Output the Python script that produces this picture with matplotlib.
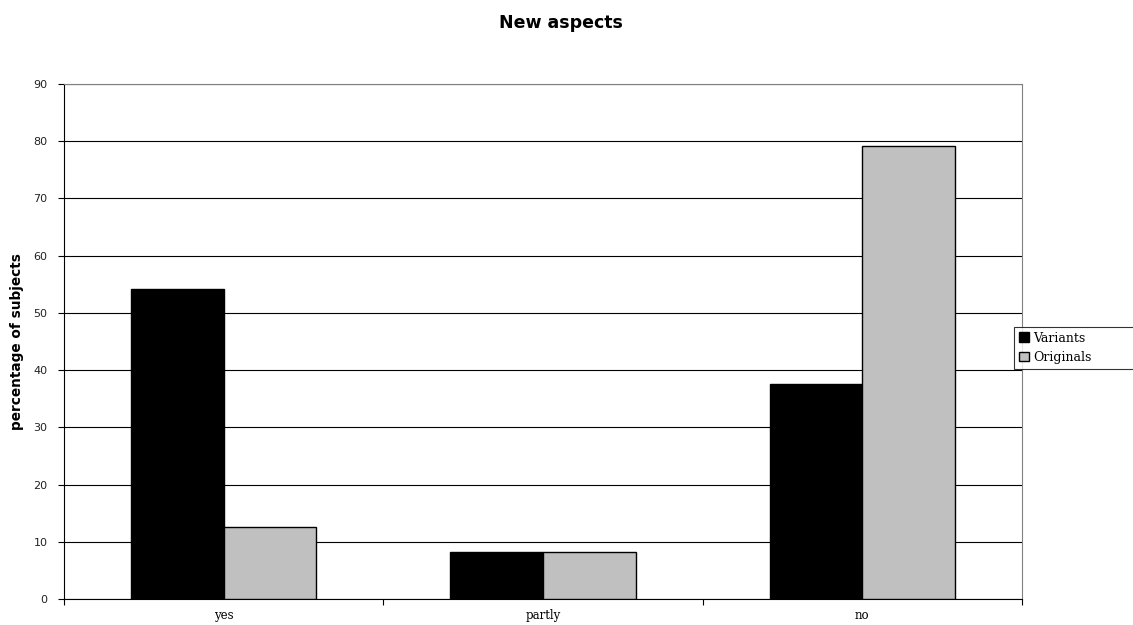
import numpy as np
import matplotlib
matplotlib.use("Agg")
import matplotlib.pyplot as plt

categories = ["yes", "partly", "no"]
variants = [54.2, 8.3, 37.5]
originals = [12.5, 8.3, 79.2]
y_ticks = [0, 10, 20, 30, 40, 50, 60, 70, 80, 90]

fig = plt.figure(figsize=(11.33, 6.25), dpi=100)
ax = fig.add_axes([0.0565, 0.0416, 0.8455, 0.824])

x = np.arange(len(categories))
w = 0.29
ax.bar(x - w/2, variants, w, color="black", edgecolor="black", linewidth=1, label="Variants", zorder=3)
ax.bar(x + w/2, originals, w, color="#c0c0c0", edgecolor="black", linewidth=1, label="Originals", zorder=3)

ax.set_xlim(-0.5, len(categories) - 0.5)
ax.set_ylim(0, 90)
ax.set_yticks(y_ticks)
ax.set_yticklabels([str(t) for t in y_ticks], fontsize=8, color="#222222")
ax.yaxis.grid(True, color="black", linewidth=0.8, zorder=0)

# ticks on category boundaries, labels in the middle
ax.set_xticks(np.arange(len(categories) + 1) - 0.5)
ax.set_xticklabels([])
ax.set_xticks(x, minor=True)
ax.set_xticklabels(categories, minor=True, fontsize=8.5, family="DejaVu Serif")
ax.tick_params(axis="x", which="minor", length=0, pad=7)
ax.tick_params(axis="x", which="major", length=4, direction="out")
ax.tick_params(axis="y", length=4, direction="out", pad=8)

for s in ["top", "right"]:
    ax.spines[s].set_color("#808080")
for s in ["left", "bottom"]:
    ax.spines[s].set_color("black")

ax.set_ylabel("percentage of subjects", fontsize=9.8, fontweight="bold", labelpad=7)
fig.suptitle("New aspects", fontsize=12.5, fontweight="bold", x=0.495, y=0.977)

leg = fig.legend(loc="lower left", bbox_to_anchor=(0.895, 0.41, 0.11, 0.08), mode="expand",
                 prop={"family": "DejaVu Serif", "size": 9},
                 frameon=True, fancybox=False, edgecolor="black", handlelength=0.8,
                 handleheight=0.8, handletextpad=0.3, borderpad=0.4, labelspacing=0.5,
                 borderaxespad=0)
leg.get_frame().set_linewidth(0.8)

fig.savefig("out.png", dpi=100)
